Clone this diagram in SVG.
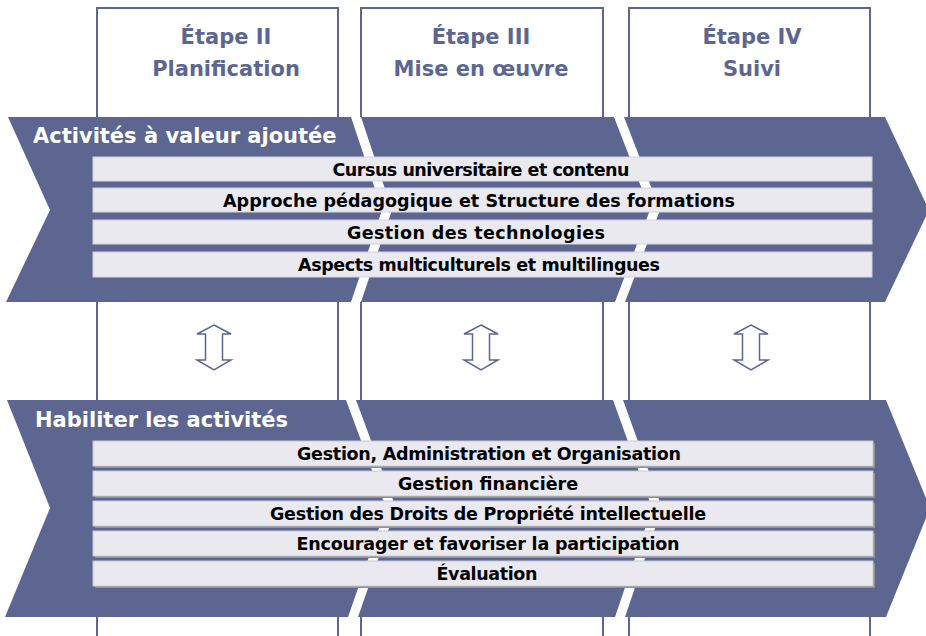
<svg xmlns="http://www.w3.org/2000/svg" width="926" height="636" viewBox="0 0 926 636">
<style>
.col{fill:#ffffff;stroke:#5c6690;stroke-width:2}
.hdr{font-family:"DejaVu Sans","Liberation Sans",sans-serif;font-weight:bold;font-size:21px;fill:#5c6690;text-anchor:middle}
.band{fill:#5c6690}
.gap{fill:#ffffff}
.ttl{font-family:"DejaVu Sans","Liberation Sans",sans-serif;font-weight:bold;font-size:21px;fill:#ffffff}
.bar{fill:#e9e9ef;stroke:#d4d4de;stroke-width:1}
.bar2{fill:#e9e9ef;stroke:#c8c8d0;stroke-width:1}
.shd{fill:#8a8f8f}
.bt{font-family:"DejaVu Sans","Liberation Sans",sans-serif;font-weight:bold;font-size:17.5px;fill:#000000;text-anchor:middle}
.arr{fill:#ffffff;stroke:#5c6690;stroke-width:1.5;stroke-linejoin:miter}
</style>

<g id="col2">
<rect class="col" x="97" y="8" width="241" height="650"/>
<text class="hdr" x="226" y="44">Étape II</text>
<text class="hdr" x="226" y="76">Planification</text>
</g>
<g id="col3">
<rect class="col" x="361" y="8" width="242" height="650"/>
<text class="hdr" x="481" y="44">Étape III</text>
<text class="hdr" x="481" y="76">Mise en œuvre</text>
</g>
<g id="col4">
<rect class="col" x="629" y="8" width="241" height="650"/>
<text class="hdr" x="752" y="44">Étape IV</text>
<text class="hdr" x="752" y="76">Suivi</text>
</g>

<g id="band-valeur">
<polygon class="band" points="8,117 885,117 929,210 885,302 6,302 50,210"/>
<polygon class="gap" points="351,117 361,117 392,210 361,302 351,302 382,210"/>
<polygon class="gap" points="614,117 624,117 660,210 625,302 615,302 650,210"/>
<text class="ttl" x="33" y="143">Activités à valeur ajoutée</text>
</g>
<g id="bar-v1">
<rect class="bar" x="93" y="157" width="779" height="24"/>
<text class="bt" x="481" y="175.5" textLength="297" lengthAdjust="spacing">Cursus universitaire et contenu</text>
</g>
<g id="bar-v2">
<rect class="bar" x="93" y="188" width="779" height="24"/>
<text class="bt" x="479" y="206.5" textLength="512" lengthAdjust="spacing">Approche pédagogique et Structure des formations</text>
</g>
<g id="bar-v3">
<rect class="bar" x="93" y="220" width="779" height="24"/>
<text class="bt" x="476" y="238.5" textLength="258" lengthAdjust="spacing">Gestion des technologies</text>
</g>
<g id="bar-v4">
<rect class="bar" x="93" y="252" width="779" height="25"/>
<text class="bt" x="479" y="270.5" textLength="362" lengthAdjust="spacing">Aspects multiculturels et multilingues</text>
</g>

<g id="connectors">
<polygon id="arrow-1" class="arr" points="214,325 231,334 222.5,334 222.5,360 231,360 214,370 197,360 205.5,360 205.5,334 197,334"/>
<polygon id="arrow-2" class="arr" points="481,325 498,334 489.5,334 489.5,360 498,360 481,370 464,360 472.5,360 472.5,334 464,334"/>
<polygon id="arrow-3" class="arr" points="751,325 768,334 759.5,334 759.5,360 768,360 751,370 734,360 742.5,360 742.5,334 734,334"/>
</g>

<g id="band-habiliter">
<polygon class="band" points="7,400 886,400 930,508 886,617 5,617 50,508"/>
<polygon class="gap" points="346,400 356,400 396,508 358,617 348,617 386,508"/>
<polygon class="gap" points="613,400 623,400 662,508 625,617 615,617 652,508"/>
<text class="ttl" x="35" y="427">Habiliter les activités</text>
</g>
<g id="bar-h1">
<rect class="shd" x="95" y="443" width="780" height="25"/>
<rect class="bar2" x="93" y="441" width="780" height="25"/>
<text class="bt" x="489" y="459.5" textLength="384" lengthAdjust="spacing">Gestion, Administration et Organisation</text>
</g>
<g id="bar-h2">
<rect class="shd" x="95" y="473" width="780" height="25"/>
<rect class="bar2" x="93" y="471" width="780" height="25"/>
<text class="bt" x="488" y="489.5" textLength="180" lengthAdjust="spacing">Gestion financière</text>
</g>
<g id="bar-h3">
<rect class="shd" x="95" y="503" width="780" height="25"/>
<rect class="bar2" x="93" y="501" width="780" height="25"/>
<text class="bt" x="488" y="519.5" textLength="436" lengthAdjust="spacing">Gestion des Droits de Propriété intellectuelle</text>
</g>
<g id="bar-h4">
<rect class="shd" x="95" y="533" width="780" height="25"/>
<rect class="bar2" x="93" y="531" width="780" height="25"/>
<text class="bt" x="488" y="549.5" textLength="383" lengthAdjust="spacing">Encourager et favoriser la participation</text>
</g>
<g id="bar-h5">
<rect class="shd" x="95" y="563" width="780" height="25"/>
<rect class="bar2" x="93" y="561" width="780" height="25"/>
<text class="bt" x="487" y="579.5" textLength="101" lengthAdjust="spacing">Évaluation</text>
</g>
</svg>
